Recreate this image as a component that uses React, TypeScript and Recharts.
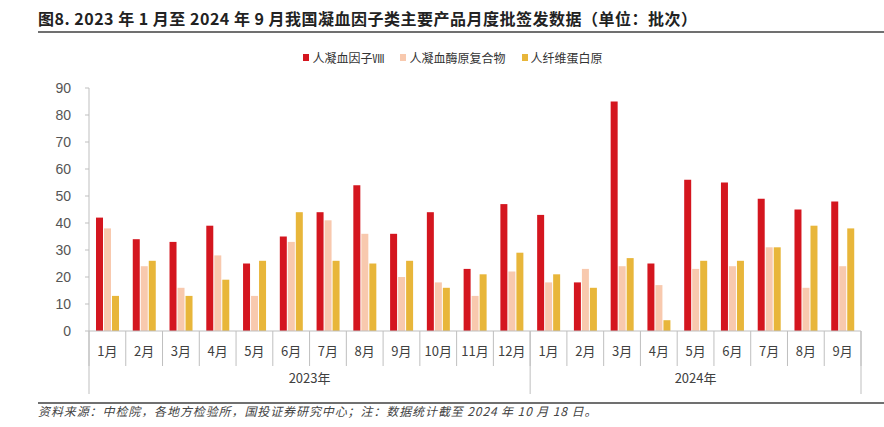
import { Bar, BarChart, XAxis, YAxis } from "recharts";

const months = [
  "1月", "2月", "3月", "4月", "5月", "6月", "7月", "8月", "9月", "10月", "11月", "12月",
  "1月", "2月", "3月", "4月", "5月", "6月", "7月", "8月", "9月",
];
const years = [
  "2023年", "2023年", "2023年", "2023年", "2023年", "2023年",
  "2023年", "2023年", "2023年", "2023年", "2023年", "2023年",
  "2024年", "2024年", "2024年", "2024年", "2024年", "2024年",
  "2024年", "2024年", "2024年",
];
const factorVIII = [42, 34, 33, 39, 25, 35, 44, 54, 36, 44, 23, 47, 43, 18, 85, 25, 56, 55, 49, 45, 48];
const prothrombin = [38, 24, 16, 28, 13, 33, 41, 36, 20, 18, 13, 22, 18, 23, 24, 17, 23, 24, 31, 16, 24];
const fibrinogen = [13, 26, 13, 19, 26, 44, 26, 25, 26, 16, 21, 29, 21, 16, 27, 4, 26, 26, 31, 39, 38];
const yTicks = [0, 10, 20, 30, 40, 50, 60, 70, 80, 90];

const series = [
  { key: "f8", name: "人凝血因子Ⅷ", color: "#d4161f" },
  { key: "pcc", name: "人凝血酶原复合物", color: "#f8c9ae" },
  { key: "fib", name: "人纤维蛋白原", color: "#e8b63a" },
];

const data = months.map((m, i) => ({
  month: m,
  year: years[i],
  f8: factorVIII[i],
  pcc: prothrombin[i],
  fib: fibrinogen[i],
}));

const FONT = "'Noto Sans CJK SC', 'Noto Sans', sans-serif";
const GRID = "#bfbfbf";
const MONTH_H = 35;
const YEAR_H = 28;
const FALLBACK_HALF = (884 - 23 - 89) / months.length / 2;

function MonthTick(props: any) {
  const { x, y, payload } = props;
  const i = payload.index ?? props.index;
  const half = payload.offset || FALLBACK_HALF;
  return (
    <g>
      <line x1={x - half} y1={y} x2={x - half} y2={y + MONTH_H} stroke={GRID} />
      {i === months.length - 1 && (
        <line x1={x + half} y1={y} x2={x + half} y2={y + MONTH_H} stroke={GRID} />
      )}
      <text x={x} y={y + 25} textAnchor="middle" fontSize={13} fill="#404040" fontFamily={FONT}>
        {payload.value}
      </text>
    </g>
  );
}

function YearTick(props: any) {
  const { x, y, payload } = props;
  const i = payload.index ?? props.index;
  const half = payload.offset || FALLBACK_HALF;
  const yr = years[i];
  let start = i;
  while (start > 0 && years[start - 1] === yr) start--;
  let end = i;
  while (end < years.length - 1 && years[end + 1] === yr) end++;
  const mid = (start + end) / 2;
  const showLabel = i === Math.floor(mid);
  return (
    <g>
      {i === start && (
        <line x1={x - half} y1={y - MONTH_H} x2={x - half} y2={y + YEAR_H} stroke={GRID} />
      )}
      {i === years.length - 1 && (
        <line x1={x + half} y1={y - MONTH_H} x2={x + half} y2={y + YEAR_H} stroke={GRID} />
      )}
      {showLabel && (
        <text
          x={x + (mid - i) * 2 * half}
          y={y + 17}
          textAnchor="middle"
          fontSize={13}
          fill="#404040"
          fontFamily={FONT}
        >
          {yr}
        </text>
      )}
    </g>
  );
}

export default function App() {
  return (
    <div style={{ position: "absolute", left: 0, top: 0, width: 884, height: 427, background: "#fff", fontFamily: FONT }}>
      <div
        style={{
          position: "absolute",
          left: 38,
          top: 7,
          fontSize: 16,
          fontWeight: 700,
          color: "#222",
          whiteSpace: "nowrap",
          lineHeight: "22px",
          letterSpacing: 0.5,
        }}
      >
        图8. 2023 年 1 月至 2024 年 9 月我国凝血因子类主要产品月度批签发数据（单位：批次）
      </div>
      <div style={{ position: "absolute", left: 38, right: 0, top: 31, height: 2, background: "#707070" }} />

      <div
        style={{
          position: "absolute",
          left: 0,
          width: 884,
          top: 49,
          display: "flex",
          justifyContent: "center",
          gap: 16,
          fontSize: 12,
          color: "#333",
          paddingLeft: 22,
          boxSizing: "border-box",
        }}
      >
        {series.map((s) => (
          <div key={s.key} style={{ display: "flex", alignItems: "center", gap: 3 }}>
            <span style={{ width: 6, height: 7, background: s.color, display: "inline-block" }} />
            <span>{s.name}</span>
          </div>
        ))}
      </div>

      <div style={{ position: "absolute", left: 0, top: 0 }}>
        <BarChart
          width={884}
          height={427}
          data={data}
          margin={{ top: 88, right: 23, left: 29, bottom: 33 }}
          barGap={1}
          barSize={7}
        >
          <XAxis
            dataKey="month"
            interval={0}
            height={MONTH_H}
            tickSize={0}
            tickMargin={0}
            tickLine={false}
            axisLine={{ stroke: GRID }}
            tick={<MonthTick />}
          />
          <XAxis
            xAxisId="year"
            dataKey="year"
            interval={0}
            height={YEAR_H}
            tickSize={0}
            tickMargin={0}
            tickLine={false}
            axisLine={false}
            tick={<YearTick />}
          />
          <YAxis
            width={60}
            domain={[0, 90]}
            ticks={yTicks}
            interval={0}
            tickSize={4}
            tickMargin={14}
            axisLine={{ stroke: GRID }}
            tickLine={{ stroke: GRID }}
            tick={{ fontSize: 14, fill: "#555", fontFamily: "Arial, 'Liberation Sans', sans-serif" }}
          />
          {series.map((s) => (
            <Bar key={s.key} dataKey={s.key} name={s.name} fill={s.color} isAnimationActive={false} />
          ))}
        </BarChart>
      </div>

      <div style={{ position: "absolute", left: 38, right: 0, top: 402, height: 2, background: "#707070" }} />
      <div
        style={{
          position: "absolute",
          left: 38,
          top: 403,
          fontSize: 12,
          fontStyle: "italic",
          color: "#444",
          whiteSpace: "nowrap",
          lineHeight: "16px",
          letterSpacing: 0.9,
        }}
      >
        资料来源：中检院，各地方检验所，国投证券研究中心；注：数据统计截至 2024 年 10 月 18 日。
      </div>
    </div>
  );
}
